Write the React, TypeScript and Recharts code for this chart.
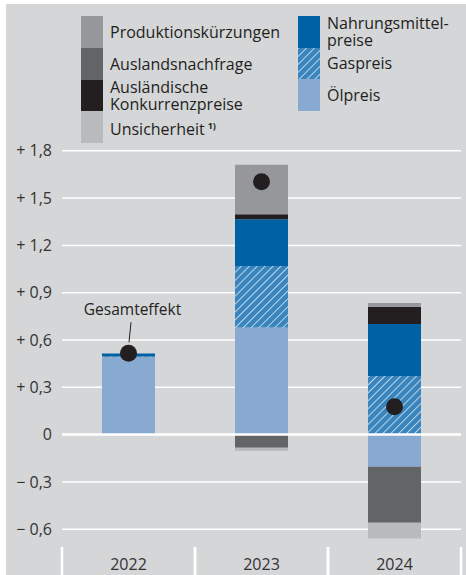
import { ComposedChart, Bar, Line, XAxis, YAxis, CartesianGrid, ReferenceLine, LabelList } from "recharts";

const YEARS = ["2022", "2023", "2024"];
const OELPREIS = [0.49, 0.68, -0.204];
const GASPREIS = [0.005, 0.39, 0.372];
const NAHRUNG = [0.02, 0.295, 0.329];
const KONKURRENZ = [0, 0.032, 0.11];
const PRODUKTION = [0, 0.314, 0.024];
const AUSLAND = [0, -0.083, -0.355];
const UNSICHERHEIT = [0, -0.021, -0.099];
const GESAMT = [0.516, 1.604, 0.177];
const Y_TICKS = [-0.6, -0.3, 0, 0.3, 0.6, 0.9, 1.2, 1.5, 1.8];

const FONT = "'Open Sans', sans-serif";
const TEXT = "#231f20";
const BG = "#d5d6d8";

// stack order: positives grow upward, negatives downward (stackOffset sign)
const SERIES = [
  { key: "oel", name: "Ölpreis", values: OELPREIS, fill: "#88a9d0" },
  { key: "gas", name: "Gaspreis", values: GASPREIS, fill: "url(#gasHatch)" },
  { key: "nahrung", name: "Nahrungsmittel-\npreise", values: NAHRUNG, fill: "#0062a5" },
  { key: "konkurrenz", name: "Ausländische\nKonkurrenzpreise", values: KONKURRENZ, fill: "#231f20" },
  { key: "produktion", name: "Produktionskürzungen", values: PRODUKTION, fill: "#97989b" },
  { key: "ausland", name: "Auslandsnachfrage", values: AUSLAND, fill: "#636466" },
  { key: "unsicherheit", name: "Unsicherheit", values: UNSICHERHEIT, fill: "#b9babc" },
];

const LEGEND_LEFT = ["produktion", "ausland", "konkurrenz", "unsicherheit"];
const LEGEND_RIGHT = ["nahrung", "gas", "oel"];

const data = YEARS.map((year, i) => {
  const row: Record<string, string | number> = { year, total: GESAMT[i] };
  for (const s of SERIES) row[s.key] = s.values[i];
  return row;
});

function fmtTick(v: number) {
  if (v === 0) return "0";
  const s = Math.abs(v).toFixed(1).replace(".", ",");
  return (v > 0 ? "+ " : "\u2212 ") + s;
}

function YearTick(props: any) {
  const { x, y, payload } = props;
  const half = payload?.offset ?? 66.5;
  return (
    <g>
      <line x1={x - half} x2={x - half} y1={y + 2} y2={y + 30} stroke="#fff" strokeWidth={2.5} />
      <line x1={x + half} x2={x + half} y1={y + 2} y2={y + 30} stroke="#fff" strokeWidth={2.5} />
      <text x={x} y={y + 25} textAnchor="middle" fontSize={16} fill="#333" fontFamily={FONT}>
        {payload.value}
      </text>
    </g>
  );
}

function GesamtLabel(props: any) {
  const { x, y, index } = props;
  if (index !== 0) return null;
  return (
    <g>
      <line x1={x + 2.5} y1={y - 31} x2={x + 0.5} y2={y - 11} stroke={TEXT} strokeWidth={1} />
      <text x={x + 4} y={y - 38} textAnchor="middle" fontSize={15.5} fill={TEXT} fontFamily={FONT}>
        Gesamteffekt
      </text>
    </g>
  );
}

function Swatch({ fill }: { fill: string }) {
  return (
    <svg width={22} height="100%" style={{ display: "block", flex: "0 0 22px" }}>
      <rect width="100%" height="100%" fill={fill} />
    </svg>
  );
}

function LegendColumn({ keys, left, heights }: { keys: string[]; left: number; heights: number[] }) {
  return (
    <div style={{ position: "absolute", left, top: 16 }}>
      {keys.map((k, i) => {
        const s = SERIES.find((d) => d.key === k)!;
        return (
          <div key={k} style={{ display: "flex", height: heights[i], alignItems: "stretch" }}>
            <Swatch fill={s.fill} />
            <div
              style={{
                display: "flex",
                alignItems: "center",
                marginLeft: 7,
                fontSize: 16,
                lineHeight: "17px",
                color: TEXT,
                whiteSpace: "pre",
              }}
            >
              <span>
                {s.name}
                {k === "unsicherheit" && (
                  <sup style={{ fontSize: 9, marginLeft: 3, fontWeight: 700, verticalAlign: 6 }}>1)</sup>
                )}
              </span>
            </div>
          </div>
        );
      })}
    </div>
  );
}

export default function App() {
  return (
    <div style={{ position: "absolute", left: 0, top: 0, width: 466, height: 575, background: "#fff", fontFamily: FONT }}>
      <svg width={0} height={0} style={{ position: "absolute" }}>
        <defs>
          <pattern id="gasHatch" patternUnits="userSpaceOnUse" width={5.6} height={5.6} patternTransform="rotate(45)">
            <rect width={5.6} height={5.6} fill="#3a85bd" />
            <line x1={0} y1={0} x2={0} y2={5.6} stroke="#fff" strokeWidth={1.3} />
          </pattern>
        </defs>
      </svg>
      <div style={{ position: "absolute", left: 6, top: 4, width: 460, height: 571, background: BG }} />
      <LegendColumn keys={LEGEND_LEFT} left={81} heights={[32, 32, 31, 32]} />
      <LegendColumn keys={LEGEND_RIGHT} left={298} heights={[32, 31, 32]} />
      <div style={{ position: "absolute", left: 0, top: 0 }}>
        <ComposedChart
          width={466}
          height={575}
          data={data}
          stackOffset="sign"
          margin={{ top: 135, right: 5, bottom: 0, left: 0 }}
        >
          <CartesianGrid vertical={false} stroke="#fff" strokeWidth={1.5} syncWithTicks />
          <XAxis
            dataKey="year"
            height={30}
            axisLine={false}
            tickLine={false}
            tickSize={0}
            tickMargin={0}
            tick={<YearTick />}
            interval={0}
          />
          <YAxis
            width={62}
            domain={[-0.7, 1.9]}
            ticks={Y_TICKS}
            allowDataOverflow
            axisLine={false}
            tickLine={false}
            tickSize={0}
            tickMargin={10}
            tickFormatter={fmtTick}
            tick={{ fontSize: 16, fill: "#333", fontFamily: FONT }}
          />
          {SERIES.map((s) => (
            <Bar key={s.key} dataKey={s.key} stackId="a" fill={s.fill} barSize={53} isAnimationActive={false} />
          ))}
          <ReferenceLine y={0} stroke="#fff" strokeWidth={2.5} />
          <Line
            dataKey="total"
            stroke="none"
            dot={{ r: 8.5, fill: TEXT, stroke: "none" }}
            activeDot={false}
            isAnimationActive={false}
          >
            <LabelList dataKey="total" content={<GesamtLabel />} />
          </Line>
        </ComposedChart>
      </div>
    </div>
  );
}
